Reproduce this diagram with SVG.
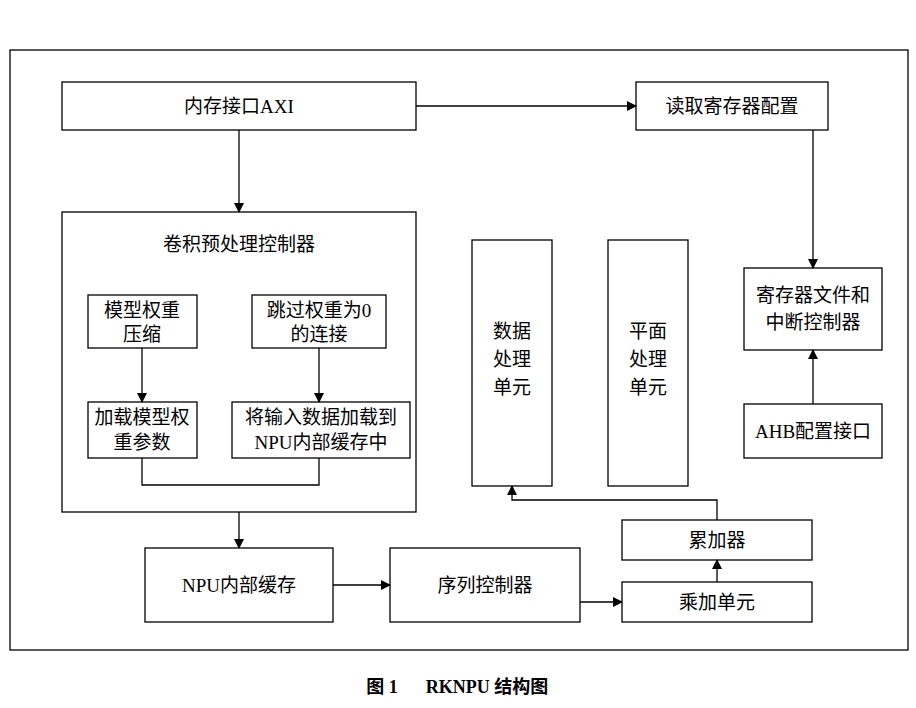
<svg xmlns="http://www.w3.org/2000/svg" width="916" height="708" viewBox="0 0 916 708">
<style>
rect{fill:#fff;stroke:#000;stroke-width:1.3}
text{font-family:"Liberation Serif","Noto Sans CJK SC",serif;font-size:19px;text-anchor:middle;fill:#000}
.c line,.c polyline{stroke:#000;stroke-width:1.3;fill:none}
</style>
<defs><marker id="a" markerWidth="10" markerHeight="10" refX="9" refY="5" orient="auto" markerUnits="userSpaceOnUse"><path d="M0,0L10,5L0,10z" fill="#000"/></marker></defs>
<rect x="10" y="50" width="898" height="600"/>
<g id="axi"><rect x="62" y="82" width="354" height="48"/><text x="239" y="113">内存接口AXI</text></g>
<g id="read"><rect x="636" y="82" width="192" height="48"/><text x="732" y="113">读取寄存器配置</text></g>
<g id="conv"><rect x="62" y="212" width="354" height="300"/><text x="239" y="251">卷积预处理控制器</text></g>
<g id="comp"><rect x="88" y="295" width="109" height="53"/><text x="142" y="317">模型权重</text><text x="142" y="341">压缩</text></g>
<g id="skip"><rect x="252" y="295" width="134" height="53"/><text x="319" y="317">跳过权重为0</text><text x="319" y="341">的连接</text></g>
<g id="load"><rect x="88" y="402" width="109" height="56"/><text x="142" y="424">加载模型权</text><text x="142" y="449">重参数</text></g>
<g id="inp"><rect x="232" y="402" width="178" height="56"/><text x="321" y="424">将输入数据加载到</text><text x="321" y="449">NPU内部缓存中</text></g>
<g id="data"><rect x="472" y="240" width="80" height="246"/><text x="512" y="338">数据</text><text x="512" y="366">处理</text><text x="512" y="394">单元</text></g>
<g id="plane"><rect x="608" y="240" width="80" height="246"/><text x="648" y="338">平面</text><text x="648" y="366">处理</text><text x="648" y="394">单元</text></g>
<g id="reg"><rect x="744" y="268" width="138" height="82"/><text x="813" y="302">寄存器文件和</text><text x="813" y="329">中断控制器</text></g>
<g id="ahb"><rect x="744" y="404" width="138" height="54"/><text x="813" y="438">AHB配置接口</text></g>
<g id="cache"><rect x="145" y="548" width="188" height="74"/><text x="239" y="592">NPU内部缓存</text></g>
<g id="seq"><rect x="390" y="548" width="190" height="74"/><text x="485" y="592">序列控制器</text></g>
<g id="acc"><rect x="622" y="520" width="190" height="40"/><text x="717" y="547">累加器</text></g>
<g id="mac"><rect x="622" y="582" width="190" height="40"/><text x="717" y="609">乘加单元</text></g>
<g class="c">
<line x1="416" y1="106" x2="636" y2="106" marker-end="url(#a)"/>
<line x1="239" y1="130" x2="239" y2="212" marker-end="url(#a)"/>
<line x1="813" y1="130" x2="813" y2="268" marker-end="url(#a)"/>
<line x1="813" y1="404" x2="813" y2="350" marker-end="url(#a)"/>
<line x1="142" y1="348" x2="142" y2="402" marker-end="url(#a)"/>
<line x1="319" y1="348" x2="319" y2="402" marker-end="url(#a)"/>
<polyline points="142,458 142,485 319,485 319,458"/>
<line x1="239" y1="512" x2="239" y2="548" marker-end="url(#a)"/>
<line x1="333" y1="585" x2="390" y2="585" marker-end="url(#a)"/>
<line x1="580" y1="602" x2="622" y2="602" marker-end="url(#a)"/>
<line x1="717" y1="582" x2="717" y2="560" marker-end="url(#a)"/>
<polyline points="717,520 717,500 512,500 512,486" marker-end="url(#a)"/>
</g>
<text x="382" y="693" style="font-weight:bold;font-size:18px">图 1</text>
<text x="487" y="693" style="font-weight:bold;font-size:18px">RKNPU 结构图</text>
</svg>
